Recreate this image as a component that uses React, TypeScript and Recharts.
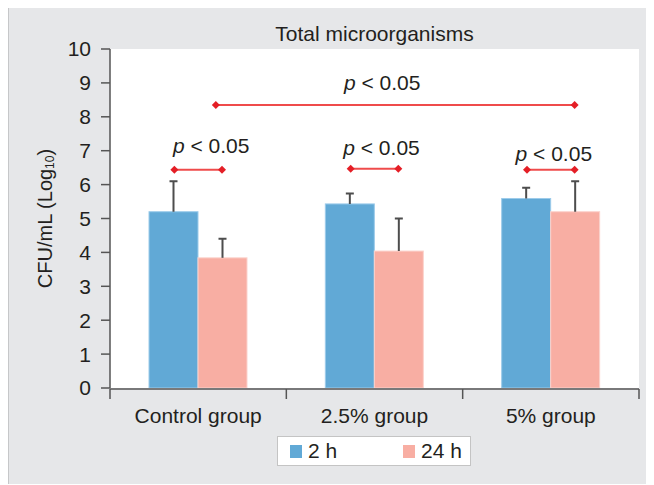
import React from "react";
import {
  Bar,
  BarChart,
  CartesianGrid,
  Label,
  ReferenceLine,
  XAxis,
  YAxis,
} from "recharts";

// values
const GROUPS = ["Control group", "2.5% group", "5% group"];
const MEAN_2H = [5.2, 5.43, 5.59];
const SD_2H = [0.9, 0.31, 0.32];
const MEAN_24H = [3.84, 4.04, 5.2];
const SD_24H = [0.56, 0.96, 0.9];
const SERIES = ["2 h", "24 h"];
const Y_TICKS = [0, 1, 2, 3, 4, 5, 6, 7, 8, 9, 10];
const GROUP_EDGES = [0, 1, 2, 3];
const GROUP_MID = [0.5, 1.5, 2.5];

// significance brackets, in group units (0..3) and log10 CFU/mL
const BRACKET_FROM = [0.365, 1.365, 2.365, 0.6];
const BRACKET_TO = [0.635, 1.635, 2.635, 2.635];
const BRACKET_Y = [6.44, 6.47, 6.44, 8.35];
const BRACKET_TEXT = ["< 0.05", "< 0.05", "< 0.05", "< 0.05"];

// label placement for each bracket (px)
const LABEL_DX = [13, 7, 3, -13];
const LABEL_DY = [17, 14, 9, 15];

const BLUE = "#61a9d6";
const PINK = "#f8aea3";
const INK = "#231f20";
const AXIS = "#555555";
const FONT = "'Liberation Sans', Arial, Helvetica, sans-serif";

const data = GROUPS.map((g, i) => ({
  group: g,
  pos: GROUP_MID[i],
  h2: MEAN_2H[i],
  h2sd: SD_2H[i],
  h24: MEAN_24H[i],
  h24sd: SD_24H[i],
}));

const barShape = (meanKey: string, sdKey: string, fill: string, edge: string) =>
  (props: any) => {
    const { x, y, width, height, payload } = props;
    const perUnit = height / payload[meanKey];
    const top = y - payload[sdKey] * perUnit;
    const cx = x + width / 2;
    return (
      <g>
        <rect x={x} y={y} width={width} height={height} fill={fill} stroke={edge} strokeWidth={1} />
        <line x1={cx} y1={y} x2={cx} y2={top} stroke="#4d4d4d" strokeWidth={2} />
        <line x1={cx - 4} y1={top} x2={cx + 4} y2={top} stroke="#4d4d4d" strokeWidth={2} />
      </g>
    );
  };

const diamond = (x: number, y: number) =>
  `${x - 4},${y} ${x},${y - 4} ${x + 4},${y} ${x},${y + 4}`;

const bracketShape = (i: number) => (props: any) => {
  const { x1, y1, x2, y2 } = props;
  const mx = (x1 + x2) / 2 + LABEL_DX[i];
  return (
    <g>
      <line x1={x1} y1={y1} x2={x2} y2={y2} stroke="#ef4b4b" strokeWidth={2} />
      <polygon points={diamond(x1, y1)} fill="#e41e26" />
      <polygon points={diamond(x2, y2)} fill="#e41e26" />
      <text
        x={mx}
        y={y1 - LABEL_DY[i]}
        textAnchor="middle"
        fontSize={21}
        fontFamily={FONT}
        fill={INK}
      >
        <tspan fontStyle="italic">p</tspan> {BRACKET_TEXT[i]}
      </text>
    </g>
  );
};

const YLabel = (props: any) => {
  const vb = props.viewBox || { x: 0, y: 41, width: 102, height: 340 };
  const cx = vb.x + 37;
  const cy = vb.y + vb.height / 2;
  return (
    <text
      x={cx}
      y={cy}
      transform={`rotate(-90 ${cx} ${cy})`}
      textAnchor="middle"
      dominantBaseline="central"
      fontSize={20}
      fontFamily={FONT}
      fill={INK}
    >
      CFU/mL (Log
      <tspan fontSize={12} dy={5}>10</tspan>
      <tspan dy={-5}>)</tspan>
    </text>
  );
};

export default function App() {
  return (
    <div
      style={{
        position: "relative",
        width: 646,
        height: 477,
        marginTop: -1,
        background: "#e6e7e9",
        boxShadow: "inset 1px 1px 0 #c6c7c9",
        fontFamily: FONT,
        color: INK,
      }}
    >
      <div
        style={{
          position: "absolute",
          left: 0,
          top: 16,
          width: 646,
          paddingLeft: 102,
          paddingRight: 15,
          boxSizing: "border-box",
          textAlign: "center",
          fontSize: 21,
          lineHeight: "21px",
        }}
      >
        Total microorganisms
      </div>
      <BarChart
        width={646}
        height={477}
        data={data}
        margin={{ top: 42, right: 15, bottom: 94, left: 0 }}
        barGap={0}
        barSize={49}
        style={{ position: "absolute", left: 0, top: 0 }}
      >
        <CartesianGrid fill="#ffffff" stroke="none" horizontal={false} vertical={false} />
        <XAxis
          dataKey="group"
          height={1}
          axisLine={false}
          tickLine={false}
          tickSize={0}
          tickMargin={20}
          tick={{ fontSize: 21, fill: INK, fontFamily: FONT }}
        />
        <XAxis
          xAxisId="n"
          dataKey="pos"
          type="number"
          domain={[0, 3]}
          ticks={GROUP_EDGES}
          allowDataOverflow
          height={1}
          tickSize={10}
          tickFormatter={() => ""}
          axisLine={{ stroke: AXIS, strokeWidth: 1.5 }}
          tickLine={{ stroke: AXIS, strokeWidth: 1.5 }}
        />
        <YAxis
          width={102}
          domain={[0, 10]}
          ticks={Y_TICKS}
          allowDataOverflow
          tickSize={9}
          tickMargin={10}
          axisLine={{ stroke: AXIS, strokeWidth: 1.5 }}
          tickLine={{ stroke: AXIS, strokeWidth: 1.5 }}
          tick={{ fontSize: 21, fill: INK, fontFamily: FONT }}
        >
          <Label content={<YLabel />} position="insideLeft" />
        </YAxis>
        <Bar
          dataKey="h2"
          name={SERIES[0]}
          isAnimationActive={false}
          shape={barShape("h2", "h2sd", BLUE, "#9ccbea")}
        />
        <Bar
          dataKey="h24"
          name={SERIES[1]}
          isAnimationActive={false}
          shape={barShape("h24", "h24sd", PINK, "#fbd3cd")}
        />
        {BRACKET_Y.map((by, i) => (
          <ReferenceLine
            key={i}
            xAxisId="n"
            ifOverflow="visible"
            segment={[
              { x: BRACKET_FROM[i], y: by },
              { x: BRACKET_TO[i], y: by },
            ]}
            shape={bracketShape(i)}
          />
        ))}
      </BarChart>
      <div
        style={{
          position: "absolute",
          left: 269,
          top: 429,
          width: 194,
          height: 30,
          boxSizing: "border-box",
          background: "#ffffff",
          border: "1px solid #c4c4c4",
          fontSize: 21,
          lineHeight: "28px",
        }}
      >
        {SERIES.map((s, i) => (
          <div
            key={s}
            style={{
              position: "absolute",
              left: i === 0 ? 12 : 125,
              top: 0,
              display: "flex",
              alignItems: "center",
              height: 28,
            }}
          >
            <span
              style={{
                display: "inline-block",
                width: 12,
                height: 13,
                background: i === 0 ? BLUE : PINK,
                marginRight: 6,
              }}
            />
            <span>{s}</span>
          </div>
        ))}
      </div>
    </div>
  );
}
